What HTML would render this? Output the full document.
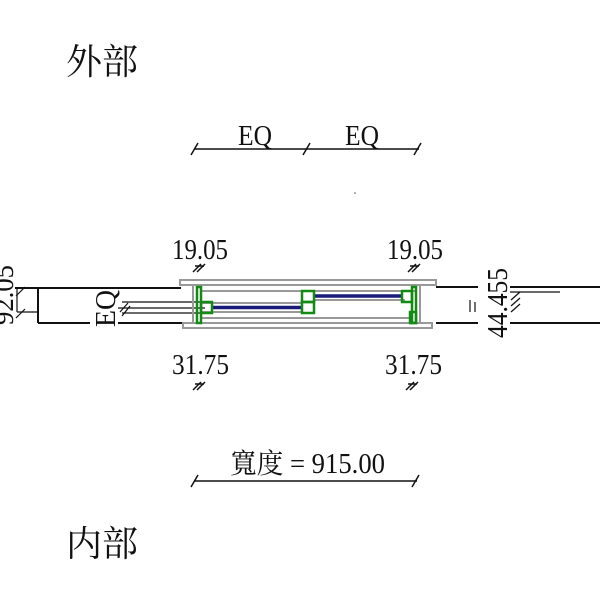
<!DOCTYPE html>
<html><head><meta charset="utf-8"><style>
html,body{margin:0;padding:0;background:#fff;width:600px;height:600px;overflow:hidden}
text{font-family:"Liberation Serif","Noto Serif CJK SC",serif;fill:#111}
</style></head><body>
<svg width="600" height="600" viewBox="0 0 600 600" xmlns="http://www.w3.org/2000/svg">
<text x="66" y="74" font-size="36">外部</text>
<text x="66" y="556" font-size="36">内部</text>

<!-- EQ dims -->
<g stroke="#111" stroke-width="1.5" fill="none">
<line x1="194" y1="149" x2="419" y2="149"/>
<line x1="191" y1="155" x2="198" y2="143"/>
<line x1="303" y1="155" x2="310" y2="143"/>
<line x1="414" y1="155" x2="421" y2="143"/>
<line x1="194" y1="481" x2="417" y2="481"/>
<line x1="191" y1="487" x2="198" y2="475"/>
<line x1="412" y1="487" x2="419" y2="475"/>
</g>
<text x="238" y="145" font-size="28" textLength="34" lengthAdjust="spacingAndGlyphs">EQ</text>
<text x="345" y="145" font-size="28" textLength="34" lengthAdjust="spacingAndGlyphs">EQ</text>
<text x="230" y="473" font-size="28" textLength="155" lengthAdjust="spacingAndGlyphs">寬度 = 915.00</text>

<!-- small dims -->
<text x="172" y="259" font-size="28" textLength="56" lengthAdjust="spacingAndGlyphs">19.05</text>
<text x="387" y="259" font-size="28" textLength="56" lengthAdjust="spacingAndGlyphs">19.05</text>
<text x="172" y="374" font-size="28" textLength="57" lengthAdjust="spacingAndGlyphs">31.75</text>
<text x="385" y="374" font-size="28" textLength="57" lengthAdjust="spacingAndGlyphs">31.75</text>
<g stroke="#111" stroke-width="1.5">
<line x1="193" y1="272" x2="201" y2="264"/><line x1="197" y1="272" x2="205" y2="264"/><line x1="195" y1="266" x2="204" y2="266"/>
<line x1="408" y1="272" x2="416" y2="264"/><line x1="412" y1="272" x2="420" y2="264"/><line x1="410" y1="266" x2="419" y2="266"/>
<line x1="193" y1="390" x2="201" y2="382"/><line x1="197" y1="390" x2="205" y2="382"/><line x1="195" y1="384" x2="204" y2="384"/>
<line x1="406" y1="390" x2="414" y2="382"/><line x1="410" y1="390" x2="418" y2="382"/><line x1="408" y1="384" x2="417" y2="384"/>
</g>

<!-- left wall -->
<g stroke="#111" stroke-width="2" fill="none">
<line x1="15" y1="288" x2="181" y2="288"/>
<line x1="38" y1="288" x2="38" y2="323"/>
<line x1="38" y1="323" x2="90" y2="323"/>
<line x1="118" y1="323" x2="183" y2="323"/>
</g>
<g stroke="#111" stroke-width="1.2">
<line x1="17" y1="288" x2="17" y2="312"/>
<line x1="17" y1="312" x2="38" y2="312"/>
<line x1="16" y1="296" x2="25" y2="287"/>
<line x1="16" y1="318" x2="25" y2="309"/>
<line x1="122" y1="302" x2="205" y2="302"/>
<line x1="118" y1="308" x2="205" y2="308"/>
<line x1="122" y1="313" x2="205" y2="313"/>
<line x1="120" y1="312" x2="128" y2="303"/><line x1="122" y1="316" x2="130" y2="306"/>
</g>
<text transform="translate(13,325) rotate(-90)" font-size="28" textLength="60" lengthAdjust="spacingAndGlyphs">92.05</text>
<text transform="translate(115,327) rotate(-90)" font-size="28" textLength="37" lengthAdjust="spacingAndGlyphs">EQ</text>

<!-- right wall -->
<g stroke="#111" stroke-width="2">
<line x1="436" y1="287" x2="478" y2="287"/>
<line x1="436" y1="323" x2="478" y2="323"/>
<line x1="510" y1="287" x2="600" y2="287"/>
<line x1="510" y1="323" x2="600" y2="323"/>
</g>
<g stroke="#111" stroke-width="1.2">
<line x1="510" y1="292" x2="560" y2="292"/>
<line x1="470" y1="300" x2="470" y2="312"/>
<line x1="475" y1="302" x2="475" y2="312"/>
<line x1="511" y1="300" x2="520" y2="292"/><line x1="511" y1="306" x2="520" y2="298"/><line x1="511" y1="312" x2="520" y2="304"/>
</g>
<text transform="translate(507,338) rotate(-90)" font-size="28" textLength="70" lengthAdjust="spacingAndGlyphs">44.455</text>

<!-- frame gray -->
<g stroke="#999" stroke-width="2" fill="none">
<rect x="180" y="280" width="256" height="5"/>
<rect x="183" y="323" width="249" height="5"/>
<line x1="193" y1="286" x2="193" y2="323"/>
<line x1="420" y1="286" x2="420" y2="323"/>
<line x1="200" y1="291" x2="415" y2="291"/>
<line x1="314" y1="300" x2="405" y2="300"/>
<line x1="200" y1="303" x2="302" y2="303"/>
<line x1="200" y1="312" x2="302" y2="312"/>
<line x1="200" y1="318" x2="410" y2="318"/>
</g>
<g stroke="#1a1a7a" stroke-width="3.5">
<line x1="212" y1="307.5" x2="302" y2="307.5"/>
<line x1="314" y1="296" x2="403" y2="296"/>
</g>
<g stroke="#138a13" stroke-width="2.5" fill="none">
<rect x="197" y="287" width="4" height="36"/>
<rect x="201" y="302" width="11" height="11"/>
<rect x="302" y="291" width="12" height="11"/>
<rect x="302" y="302" width="12" height="11"/>
<rect x="402" y="291" width="10" height="11"/>
<rect x="412" y="287" width="4" height="36"/>
<rect x="410" y="312" width="6" height="11"/>
</g>
<circle cx="355" cy="193" r="0.8" fill="#555"/>
</svg>
</body></html>
